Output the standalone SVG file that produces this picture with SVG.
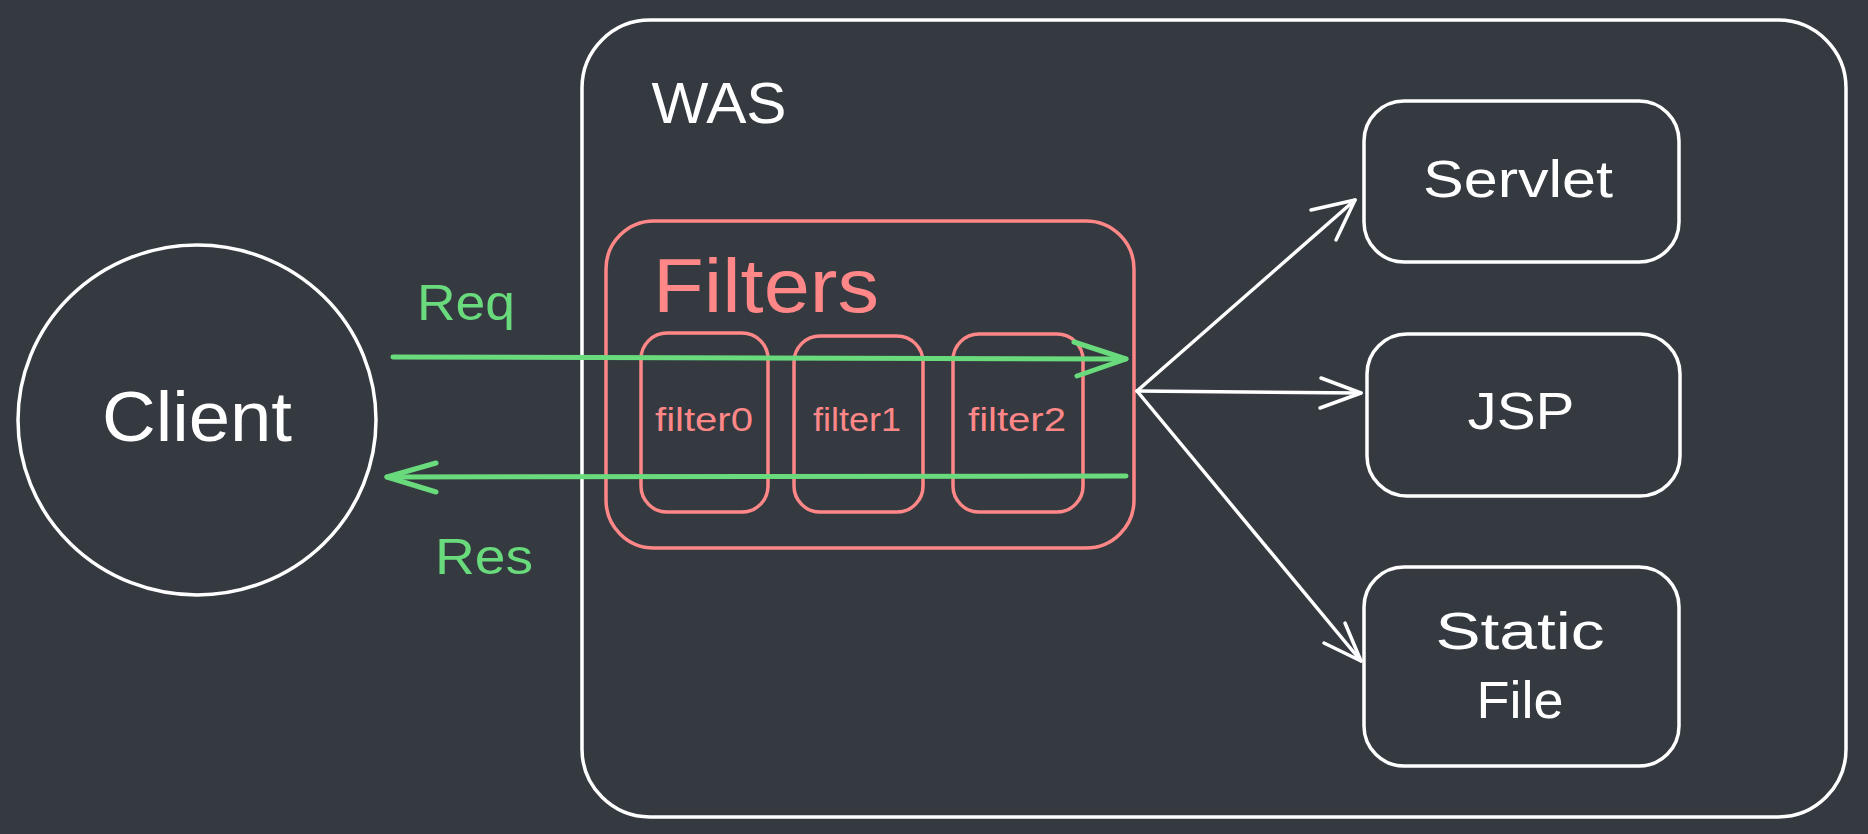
<svg xmlns="http://www.w3.org/2000/svg" width="1868" height="834" viewBox="0 0 1868 834">
<defs>
<style>
.w{fill:none;stroke:#ffffff;stroke-width:3.5;stroke-linecap:round;stroke-linejoin:round}
.p{fill:none;stroke:#ff8787;stroke-width:3.5;stroke-linecap:round;stroke-linejoin:round}
.g{fill:none;stroke:#69db7c;stroke-width:5;stroke-linecap:round;stroke-linejoin:round}
.t{font-family:"Liberation Sans","Open Sans",sans-serif;text-anchor:middle}
.tw{fill:#ffffff}
.tp{fill:#ff8787}
.tg{fill:#69db7c}
</style>
</defs>
<rect x="0" y="0" width="1868" height="834" fill="#343a40"/>

<g id="was">
<rect class="w" x="582" y="20" width="1264" height="797" rx="68"/>
<text class="t tw" x="719" y="123" font-size="58" textLength="135" lengthAdjust="spacingAndGlyphs">WAS</text>
</g>

<g id="client">
<ellipse class="w" cx="197" cy="420" rx="179" ry="175"/>
<text class="t tw" x="197" y="441" font-size="70" textLength="190" lengthAdjust="spacingAndGlyphs">Client</text>
</g>

<g id="filters">
<rect class="p" x="606" y="221" width="528" height="327" rx="48"/>
<text class="t tp" x="653" y="312" font-size="76" style="text-anchor:start" textLength="226" lengthAdjust="spacingAndGlyphs">Filters</text>
</g>

<g id="filter0">
<rect class="p" x="641" y="333" width="127" height="179" rx="26"/>
<text class="t tp" x="704" y="431" font-size="34" textLength="98" lengthAdjust="spacingAndGlyphs">filter0</text>
</g>
<g id="filter1">
<rect class="p" x="794" y="336" width="129" height="176" rx="26"/>
<text class="t tp" x="857" y="431" font-size="34" textLength="88" lengthAdjust="spacingAndGlyphs">filter1</text>
</g>
<g id="filter2">
<rect class="p" x="953" y="334" width="130" height="178" rx="26"/>
<text class="t tp" x="1017" y="431" font-size="34" textLength="98" lengthAdjust="spacingAndGlyphs">filter2</text>
</g>

<g id="servlet">
<rect class="w" x="1364" y="101" width="315" height="161" rx="40"/>
<text class="t tw" x="1518" y="197" font-size="52" textLength="190" lengthAdjust="spacingAndGlyphs">Servlet</text>
</g>
<g id="jsp">
<rect class="w" x="1367" y="334" width="313" height="162" rx="40"/>
<text class="t tw" x="1521" y="429" font-size="52" textLength="107" lengthAdjust="spacingAndGlyphs">JSP</text>
</g>
<g id="static">
<rect class="w" x="1364" y="567" width="315" height="199" rx="40"/>
<text class="t tw" x="1520" y="649" font-size="52" textLength="169" lengthAdjust="spacingAndGlyphs">Static</text>
<text class="t tw" x="1520" y="718" font-size="52" textLength="87" lengthAdjust="spacingAndGlyphs">File</text>
</g>

<g id="connectors">
<path class="g" d="M393 357 L1126 359"/>
<path class="g" d="M1074 342 L1126 359 L1077 376"/>
<text class="t tg" x="466" y="320" font-size="50" textLength="98" lengthAdjust="spacingAndGlyphs">Req</text>
<path class="g" d="M1126 476 L387 477"/>
<path class="g" d="M436 463 L387 477 L436 492"/>
<text class="t tg" x="484" y="574" font-size="50" textLength="98" lengthAdjust="spacingAndGlyphs">Res</text>

<path class="w" d="M1137 391 L1355 200"/>
<path class="w" d="M1311 210 L1355 200 L1336 240"/>
<path class="w" d="M1137 391 L1361 393"/>
<path class="w" d="M1321 378 L1361 393 L1320 408"/>
<path class="w" d="M1137 391 L1361 661"/>
<path class="w" d="M1345 623 L1361 661 L1324 643"/>
</g>
</svg>
